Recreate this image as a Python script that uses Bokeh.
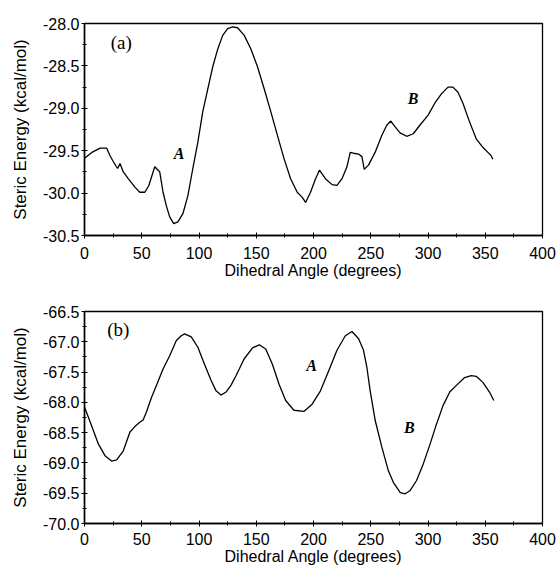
from bokeh.plotting import figure
from bokeh.layouts import column
from bokeh.models import FixedTicker, NumeralTickFormatter, Range1d, Label
from bokeh.embed import file_html
from bokeh.resources import INLINE

# ---- data ----
angle_a = [0, 6.4, 13.6, 19.4, 22.3, 25.2, 28.9, 31.0, 33.9, 38.2, 44.0, 48.3, 52.7, 56.2,
           59.0, 61.4, 64.3, 65.7, 68.6, 71.5, 74.4, 77.9, 81.6, 86.0, 90.3, 94.6, 99.0,
           103.3, 107.7, 112.0, 116.4, 120.7, 125.0, 129.4, 133.7, 139.5, 145.3, 151.1,
           156.9, 162.7, 168.5, 174.2, 180.0, 185.8, 190.2, 193.1, 197.4, 201.8, 205.2,
           210.4, 216.2, 220.5, 224.9, 229.2, 232.1, 235.0, 239.4, 242.3, 244.3, 248.0,
           253.8, 259.6, 264.0, 267.5, 271.3, 275.6, 281.4, 287.1, 292.9, 300.1, 305.9,
           311.7, 317.5, 321.8, 326.2, 330.5, 336.3, 342.1, 347.9, 352.3, 355.2, 356.6]
energy_a = [-29.59, -29.52, -29.47, -29.47, -29.56, -29.63, -29.71, -29.65, -29.75, -29.83,
            -29.93, -29.99, -29.99, -29.91, -29.79, -29.69, -29.73, -29.75, -29.99, -30.15,
            -30.28, -30.36, -30.34, -30.24, -30.03, -29.71, -29.40, -29.04, -28.77, -28.51,
            -28.30, -28.14, -28.06, -28.04, -28.05, -28.14, -28.30, -28.51, -28.77, -29.04,
            -29.32, -29.59, -29.83, -29.99, -30.05, -30.11, -29.99, -29.83, -29.73, -29.83,
            -29.90, -29.91, -29.83, -29.69, -29.52, -29.53, -29.54, -29.57, -29.72, -29.67,
            -29.52, -29.32, -29.20, -29.15, -29.22, -29.29, -29.33, -29.30, -29.20, -29.08,
            -28.94, -28.83, -28.75, -28.75, -28.81, -28.94, -29.16, -29.36, -29.46, -29.52,
            -29.56, -29.60]

angle_b = [0, 3.5, 7.8, 12.2, 17.9, 23.7, 28.1, 33.9, 39.7, 44.0, 48.3, 51.2, 54.1, 58.5,
           62.8, 68.6, 74.4, 80.2, 84.5, 87.4, 93.2, 99.0, 104.8, 110.6, 114.9, 119.2,
           123.6, 127.9, 132.3, 139.5, 146.8, 152.6, 158.3, 164.1, 169.9, 175.7, 182.9,
           191.6, 198.8, 206.1, 213.3, 220.5, 227.8, 233.6, 239.4, 243.7, 246.6, 249.5,
           253.9, 259.7, 265.4, 269.7, 275.8, 280.1, 284.2, 290.0, 295.8, 301.8, 307.4,
           313.2, 319.0, 324.8, 332.0, 337.8, 342.1, 347.9, 353.7, 357.5]
energy_b = [-68.08, -68.25, -68.47, -68.69, -68.88, -68.97, -68.95, -68.80, -68.49, -68.40,
            -68.33, -68.29, -68.16, -67.92, -67.72, -67.45, -67.23, -66.98, -66.90, -66.87,
            -66.92, -67.09, -67.37, -67.64, -67.81, -67.88, -67.83, -67.72, -67.56, -67.28,
            -67.10, -67.05, -67.12, -67.37, -67.70, -67.97, -68.13, -68.15, -68.03, -67.81,
            -67.48, -67.14, -66.90, -66.83, -66.95, -67.14, -67.42, -67.81, -68.30, -68.74,
            -69.13, -69.32, -69.49, -69.51, -69.46, -69.29, -69.02, -68.69, -68.36, -68.05,
            -67.83, -67.72, -67.59, -67.56, -67.57, -67.67, -67.83, -67.97]

x_ticks = [0, 50, 100, 150, 200, 250, 300, 350, 400]
x_minor = [25, 75, 125, 175, 225, 275, 325, 375]
y_ticks_a = [-30.5, -30.0, -29.5, -29.0, -28.5, -28.0]
y_minor_a = [-30.25, -29.75, -29.25, -28.75, -28.25]
y_ticks_b = [-70.0, -69.5, -69.0, -68.5, -68.0, -67.5, -67.0, -66.5]
y_minor_b = [-69.75, -69.25, -68.75, -68.25, -67.75, -67.25, -66.75]

x_title = "Dihedral Angle (degrees)"
y_title = "Steric Energy (kcal/mol)"

SANS = "Liberation Sans"
SERIF = "Liberation Serif"


def make_fig(xs, ys, yt, ym, height, bl, bt, bb, br, lbl_std, ttl_std):
    p = figure(width=557, height=height, output_backend="svg", toolbar_location=None,
               x_range=Range1d(0, 400), y_range=Range1d(yt[0], yt[-1]),
               min_border_left=bl, min_border_top=bt, min_border_bottom=bb,
               min_border_right=br)
    p.line(xs, ys, line_color="black", line_width=1.3)
    p.xgrid.visible = False
    p.ygrid.visible = False
    p.outline_line_color = "black"
    p.outline_line_width = 1.3
    p.background_fill_color = "white"
    p.border_fill_color = "white"

    p.xaxis.ticker = FixedTicker(ticks=x_ticks, minor_ticks=x_minor)
    p.yaxis.ticker = FixedTicker(ticks=yt, minor_ticks=ym)
    p.yaxis.formatter = NumeralTickFormatter(format="0.0")
    for ax in (p.xaxis, p.yaxis):
        ax.axis_line_color = "black"
        ax.axis_line_width = 1.5
        ax.major_tick_line_color = "black"
        ax.minor_tick_line_color = "black"
        ax.major_tick_in = 3
        ax.major_tick_out = 3
        ax.minor_tick_in = 2
        ax.minor_tick_out = 2
        ax.major_label_text_font = SANS
        ax.major_label_text_font_size = "16px"
        ax.major_label_text_color = "black"
        ax.axis_label_text_font = SANS
        ax.axis_label_text_font_style = "normal"
        ax.axis_label_text_color = "black"
    p.xaxis.axis_label = x_title
    p.xaxis.axis_label_text_font_size = "16px"
    p.xaxis.major_label_standoff = lbl_std
    p.xaxis.axis_label_standoff = ttl_std
    p.yaxis.axis_label = y_title
    p.yaxis.axis_label_text_font_size = "17px"
    p.yaxis.major_label_standoff = 2
    p.yaxis.axis_label_standoff = 10
    return p


p1 = make_fig(angle_a, energy_a, y_ticks_a, y_minor_a, 290, 81, 23, 55, 15, 8, 0)
p1.add_layout(Label(x=32.1, y=-28.22, text="(a)", text_font=SERIF, text_font_size="19px",
                    text_align="center", text_baseline="middle", text_color="black"))
p1.add_layout(Label(x=82.5, y=-29.53, text="A", text_font=SERIF, text_font_size="16px",
                    text_font_style="bold italic", text_align="center",
                    text_baseline="middle", text_color="black"))
p1.add_layout(Label(x=287.0, y=-28.89, text="B", text_font=SERIF, text_font_size="16px",
                    text_font_style="bold italic", text_align="center",
                    text_baseline="middle", text_color="black"))

p2 = make_fig(angle_b, energy_b, y_ticks_b, y_minor_b, 278, 84, 21, 45, 12, 6, 0)
p2.add_layout(Label(x=29.5, y=-66.8, text="(b)", text_font=SERIF, text_font_size="19px",
                    text_align="center", text_baseline="middle", text_color="black"))
p2.add_layout(Label(x=198.3, y=-67.39, text="A", text_font=SERIF, text_font_size="16px",
                    text_font_style="bold italic", text_align="center",
                    text_baseline="middle", text_color="black"))
p2.add_layout(Label(x=283.6, y=-68.41, text="B", text_font=SERIF, text_font_size="16px",
                    text_font_style="bold italic", text_align="center",
                    text_baseline="middle", text_color="black"))

layout = column(p1, p2, spacing=0)
open("out.html", "w").write(file_html(layout, INLINE))
